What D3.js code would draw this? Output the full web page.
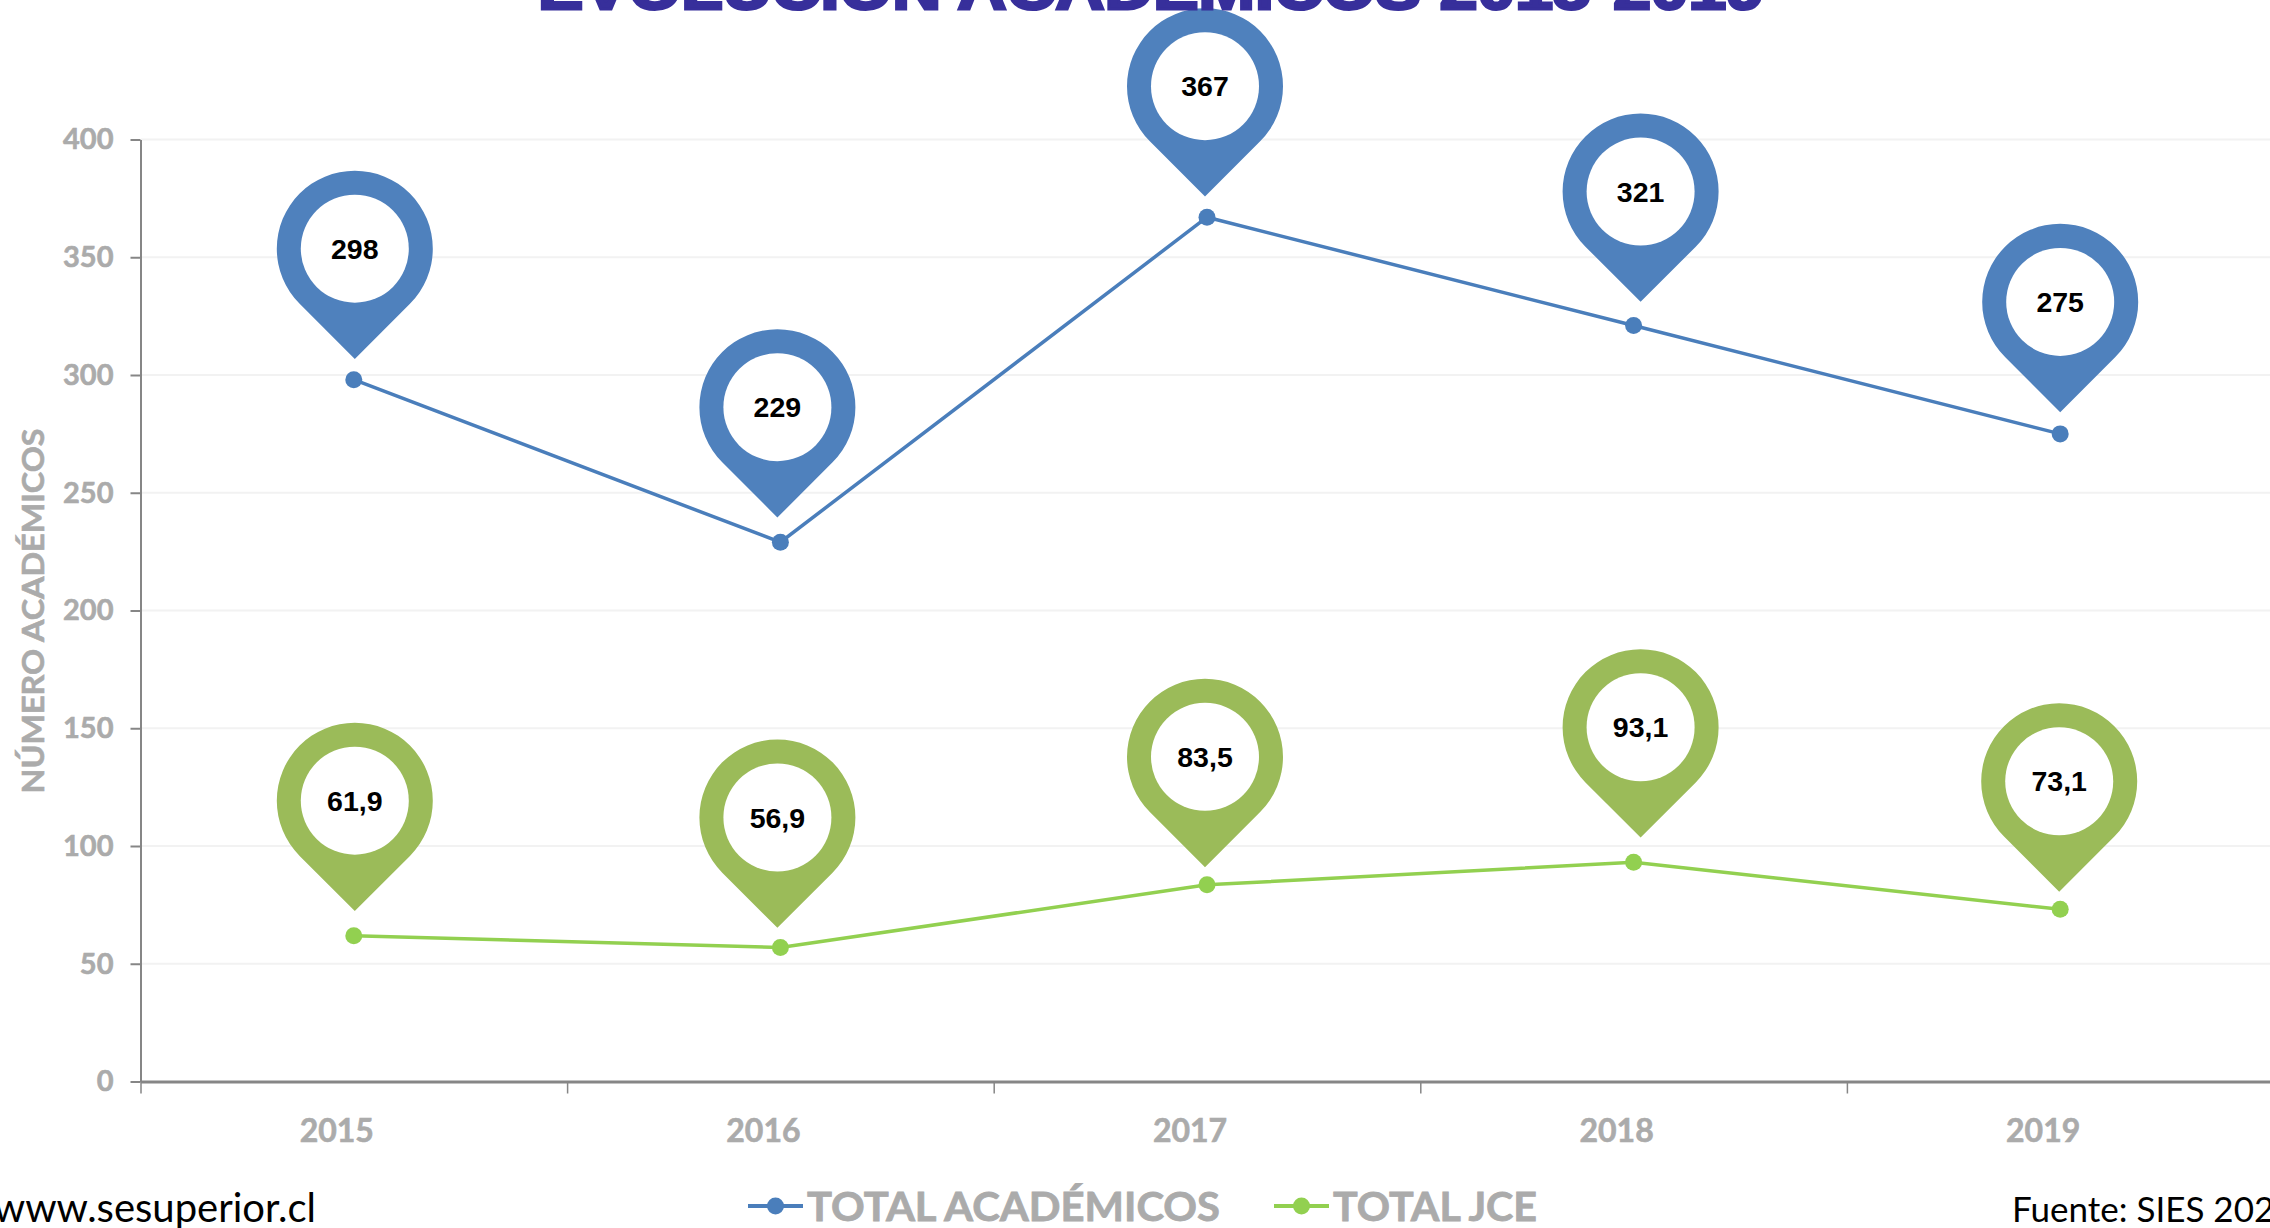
<!DOCTYPE html>
<html>
<head>
<meta charset="utf-8">
<script src="https://cdn.jsdelivr.net/npm/d3@7"></script>
<style>
    html, body { margin: 0; padding: 0; background: #fff; overflow: hidden; }
</style>
</head>
<body>
<div id="chart"></div>
<script>
const years = ['2015', '2016', '2017', '2018', '2019'];
const totalAcademicos = [298, 229, 367, 321, 275];
const totalJce = [61.9, 56.9, 83.5, 93.1, 73.1];
const yTicks = [0, 50, 100, 150, 200, 250, 300, 350, 400];

// pins were placed by hand in the original, so they sit a bit off their points
const pinShiftAcademicos = [[1, -131], [-3, -135], [-2, -131], [7, -134], [0, -132]];
const pinShiftJce = [[1, -135], [-3, -130], [-2, -128], [7, -135], [-1, -128]];

const width = 2270, height = 1228;
const blue = '#4a7ebb', green = '#92d050', pinBlue = '#4f81bd', pinGreen = '#9bbb59';
const grey = '#ababab', axisGrey = '#868686';
const calibriLike = 'Lato, "Open Sans", sans-serif';

const svg = d3.select('#chart').append('svg')
    .attr('width', width)
    .attr('height', height)
    .style('display', 'block');

const x = d3.scaleBand().domain(years).range([140.5, 2273.5]);
const y = d3.scaleLinear().domain([0, 400]).range([1081.5, 139.5]);

// gridlines
svg.append('g').selectAll('line')
    .data(yTicks.filter(d => d > 0))
    .enter().append('line')
    .attr('x1', 141)
    .attr('x2', width)
    .attr('y1', d => y(d))
    .attr('y2', d => y(d))
    .attr('stroke', '#f2f2f2')
    .attr('stroke-width', 2);

// y axis
const yAxis = svg.append('g')
    .attr('transform', 'translate(140.5,0)')
    .call(d3.axisLeft(y).tickValues(yTicks).tickSize(10).tickPadding(17).tickSizeOuter(0));
yAxis.select('.domain').attr('stroke', axisGrey).attr('stroke-width', 2);
yAxis.selectAll('.tick line').attr('stroke', axisGrey).attr('stroke-width', 2);
yAxis.selectAll('text')
    .attr('fill', grey)
    .attr('stroke', grey)
    .attr('stroke-width', 0.6)
    .style('font', 'bold 29px ' + calibriLike);

// x axis: ticks on the band edges, labels a little left of the band centre
const xEdges = d3.scaleLinear().domain([0, years.length]).range(x.range());
const xAxis = svg.append('g')
    .attr('transform', 'translate(0,1081.5)')
    .call(d3.axisBottom(xEdges).ticks(years.length).tickSize(12).tickFormat('').tickSizeOuter(0));
xAxis.select('.domain').attr('stroke', axisGrey).attr('stroke-width', 3);
xAxis.selectAll('.tick line').attr('stroke', axisGrey).attr('stroke-width', 1.5);

svg.append('g').selectAll('text')
    .data(years)
    .enter().append('text')
    .attr('x', d => x(d) + x.bandwidth() / 2 - 17)
    .attr('y', 1142)
    .attr('text-anchor', 'middle')
    .attr('fill', grey)
    .attr('stroke', grey)
    .attr('stroke-width', 0.6)
    .style('font', 'bold 32px ' + calibriLike)
    .text(d => d);

const line = d3.line()
    .x((d, i) => x(years[i]) + x.bandwidth() / 2)
    .y(d => y(d));

function drawSeries(values, lineColor, pinColor, shifts, fmt) {
    const g = svg.append('g');

    g.append('path')
        .attr('d', line(values))
        .attr('fill', 'none')
        .attr('stroke', lineColor)
        .attr('stroke-width', 3.5);

    g.selectAll('circle')
        .data(values)
        .enter().append('circle')
        .attr('cx', (d, i) => x(years[i]) + x.bandwidth() / 2)
        .attr('cy', d => y(d))
        .attr('r', 8.5)
        .attr('fill', lineColor);

    const R = 78, tip = R * Math.SQRT2, t = R * Math.SQRT1_2;
    const pin = g.selectAll('g.pin')
        .data(values)
        .enter().append('g')
        .attr('class', 'pin')
        .attr('transform', (d, i) => {
            const px = x(years[i]) + x.bandwidth() / 2 + shifts[i][0];
            return 'translate(' + px + ',' + (y(d) + shifts[i][1]) + ')';
        });

    pin.append('path')
        .attr('d', `M0,${tip}L${-t},${t}A${R},${R} 0 1 1 ${t},${t}Z`)
        .attr('fill', pinColor);

    pin.append('circle')
        .attr('r', 54)
        .attr('fill', '#fff');

    pin.append('text')
        .attr('y', 10)
        .attr('text-anchor', 'middle')
        .attr('fill', '#000')
        .style('font', 'bold 28.5px "Liberation Sans", Arial, sans-serif')
        .text(fmt);
}

drawSeries(totalAcademicos, blue, pinBlue, pinShiftAcademicos, d => d);
drawSeries(totalJce, green, pinGreen, pinShiftJce, d => String(d).replace('.', ','));

// title, cut by the top of the picture
svg.append('text')
    .attr('x', 1151)
    .attr('y', 9)
    .attr('text-anchor', 'middle')
    .attr('fill', '#372f9b')
    .attr('stroke', '#372f9b')
    .attr('stroke-width', 3)
    .attr('textLength', 1226)
    .attr('lengthAdjust', 'spacingAndGlyphs')
    .style('font', 'bold 60px "Liberation Sans", Arial, sans-serif')
    .text('EVOLUCIÓN ACADÉMICOS 2015-2019');

// y axis title
svg.append('text')
    .attr('transform', 'translate(44,611) rotate(-90)')
    .attr('text-anchor', 'middle')
    .attr('fill', grey)
    .attr('stroke', grey)
    .attr('stroke-width', 0.6)
    .attr('textLength', 365)
    .attr('lengthAdjust', 'spacingAndGlyphs')
    .style('font', 'bold 31px ' + calibriLike)
    .text('NÚMERO ACADÉMICOS');

// legend
const legendItems = ['TOTAL ACADÉMICOS', 'TOTAL JCE'];
const legendColors = [blue, green];
const legendX = [748, 1274];
const legendTextWidth = [413, 204];

const legend = svg.selectAll('.legend')
    .data(legendItems)
    .enter().append('g')
    .attr('class', 'legend')
    .attr('transform', (d, i) => 'translate(' + legendX[i] + ',1206)');

legend.append('line')
    .attr('x2', 55)
    .attr('stroke', (d, i) => legendColors[i])
    .attr('stroke-width', 4);

legend.append('circle')
    .attr('cx', 27.5)
    .attr('r', 8.5)
    .attr('fill', (d, i) => legendColors[i]);

legend.append('text')
    .attr('x', 59)
    .attr('y', 15)
    .attr('fill', grey)
    .attr('stroke', grey)
    .attr('stroke-width', 0.8)
    .attr('textLength', (d, i) => legendTextWidth[i])
    .attr('lengthAdjust', 'spacingAndGlyphs')
    .style('font', 'bold 41px ' + calibriLike)
    .text(d => d);

// footer notes, both cut by the picture edge
svg.append('text')
    .attr('x', 316)
    .attr('y', 1222)
    .attr('text-anchor', 'end')
    .attr('fill', '#000')
    .style('font', '40px ' + calibriLike)
    .text('www.sesuperior.cl');

svg.append('text')
    .attr('x', 2012)
    .attr('y', 1222)
    .attr('fill', '#000')
    .style('font', '35px ' + calibriLike)
    .text('Fuente: SIES 2020');
</script>
</body>
</html>
